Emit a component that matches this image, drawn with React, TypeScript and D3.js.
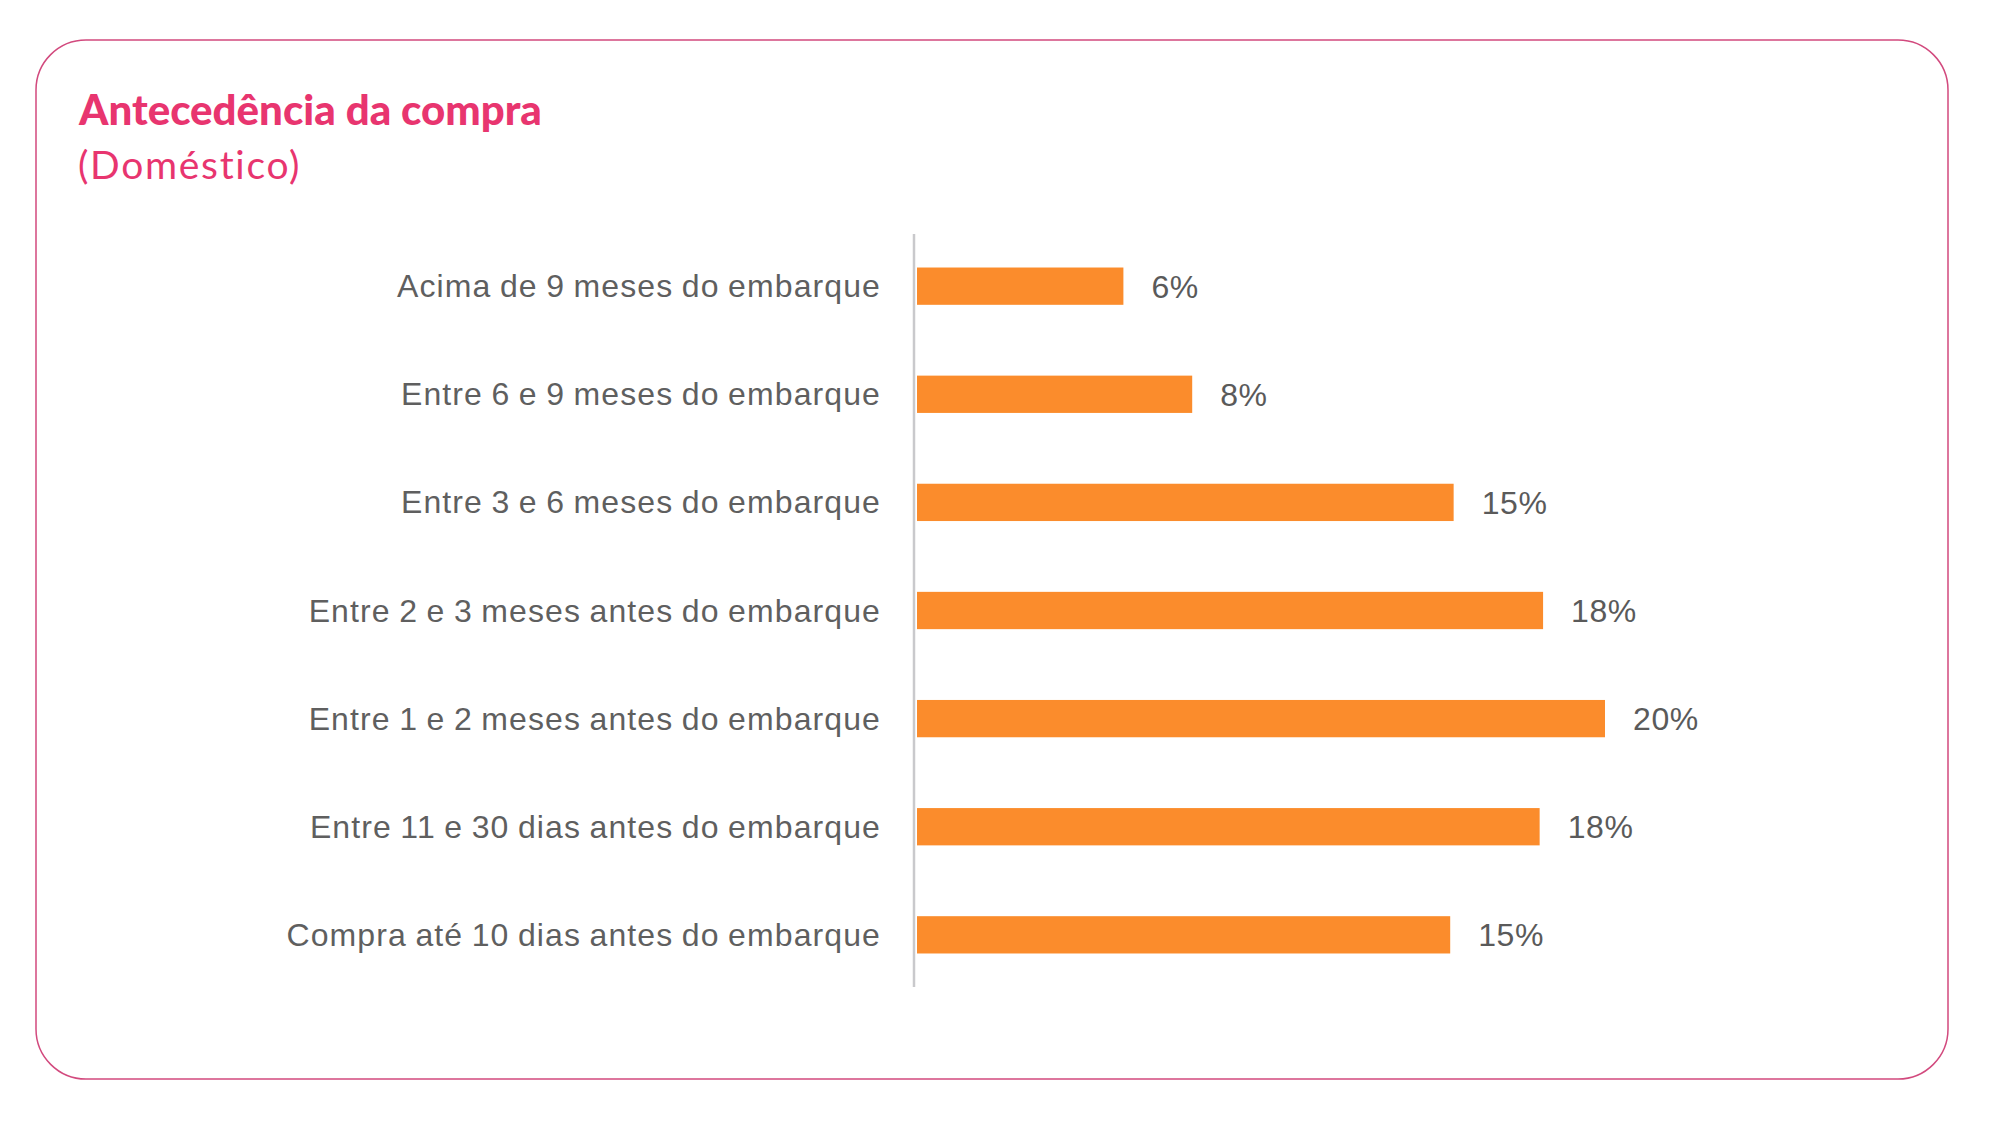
import { useRef, useEffect } from 'react';
import * as d3 from 'd3';

const WIDTH = 2002;
const HEIGHT = 1130;

const CATEGORIES = [
  'Acima de 9 meses do embarque',
  'Entre 6 e 9 meses do embarque',
  'Entre 3 e 6 meses do embarque',
  'Entre 2 e 3 meses antes do embarque',
  'Entre 1 e 2 meses antes do embarque',
  'Entre 11 e 30 dias antes do embarque',
  'Compra até 10 dias antes do embarque',
];

// bar lengths (percent)
const VALUES = [6, 8, 15.6, 18.2, 20, 18.1, 15.5];

// labels as printed next to the bars
const VALUE_LABELS = ['6%', '8%', '15%', '18%', '20%', '18%', '15%'];

const TITLE = 'Antecedência da compra';
const SUBTITLE = '(Doméstico)';

const PINK = '#e8356f';
const ORANGE = '#fb8c2c';

function App() {
  const svgRef = useRef<SVGSVGElement | null>(null);

  useEffect(() => {
    const svg = d3.select(svgRef.current);
    svg.selectAll('*').remove();

    // card frame
    svg
      .append('rect')
      .attr('x', 36)
      .attr('y', 40)
      .attr('width', 1912)
      .attr('height', 1039)
      .attr('rx', 50)
      .attr('fill', '#fff')
      .attr('stroke', '#d24a7e')
      .attr('stroke-width', 1.5);

    svg
      .append('text')
      .attr('x', 79)
      .attr('y', 125)
      .attr('fill', PINK)
      .attr('font-family', 'Lato, "Noto Sans", sans-serif')
      .attr('font-weight', 900)
      .attr('font-size', 42)
      .text(TITLE);

    svg
      .append('text')
      .attr('x', 78)
      .attr('y', 179)
      .attr('fill', PINK)
      .attr('font-family', 'Lato, "Noto Sans", sans-serif')
      .attr('font-size', 39)
      .attr('letter-spacing', 1.7)
      .text(SUBTITLE);

    const x = d3.scaleLinear().domain([0, 20]).range([917, 1605]);
    const y = d3
      .scaleBand<string>()
      .domain(CATEGORIES)
      .range([234, 987])
      .paddingInner(0.655)
      .paddingOuter(0.31);

    const rows = CATEGORIES.map((c, i) => ({ c, v: VALUES[i], label: VALUE_LABELS[i] }));

    const g = svg.append('g');

    g.selectAll('.bar')
      .data(rows)
      .join('rect')
      .attr('class', 'bar')
      .attr('x', x(0))
      .attr('y', (d) => y(d.c)!)
      .attr('width', (d) => x(d.v) - x(0))
      .attr('height', y.bandwidth())
      .attr('fill', ORANGE);

    // vertical axis line
    g.append('line')
      .attr('x1', 914)
      .attr('x2', 914)
      .attr('y1', 234)
      .attr('y2', 987)
      .attr('stroke', '#c9c9cc')
      .attr('stroke-width', 2.5);

    // category labels
    g.selectAll('.cat')
      .data(rows)
      .join('text')
      .attr('class', 'cat')
      .attr('x', 881)
      .attr('y', (d) => y(d.c)! + y.bandwidth() / 2 + 11)
      .attr('text-anchor', 'end')
      .attr('fill', '#5f5f5f')
      .attr('font-family', '"Liberation Sans", Arial, sans-serif')
      .attr('font-size', 32)
      .attr('letter-spacing', 1.1)
      .attr('word-spacing', -1.5)
      .text((d) => d.c);

    // value labels
    g.selectAll('.val')
      .data(rows)
      .join('text')
      .attr('class', 'val')
      .attr('x', (d) => x(d.v) + 28)
      .attr('y', (d) => y(d.c)! + y.bandwidth() / 2 + 11.5)
      .attr('fill', '#5a5a5a')
      .attr('font-family', '"Liberation Sans", Arial, sans-serif')
      .attr('font-size', 32)
      .attr('letter-spacing', 0.6)
      .text((d) => d.label);
  }, []);

  return (
    <div style={{ position: 'absolute', left: 0, top: 0 }}>
      <svg ref={svgRef} width={WIDTH} height={HEIGHT} style={{ display: 'block' }} />
    </div>
  );
}

export default App;
